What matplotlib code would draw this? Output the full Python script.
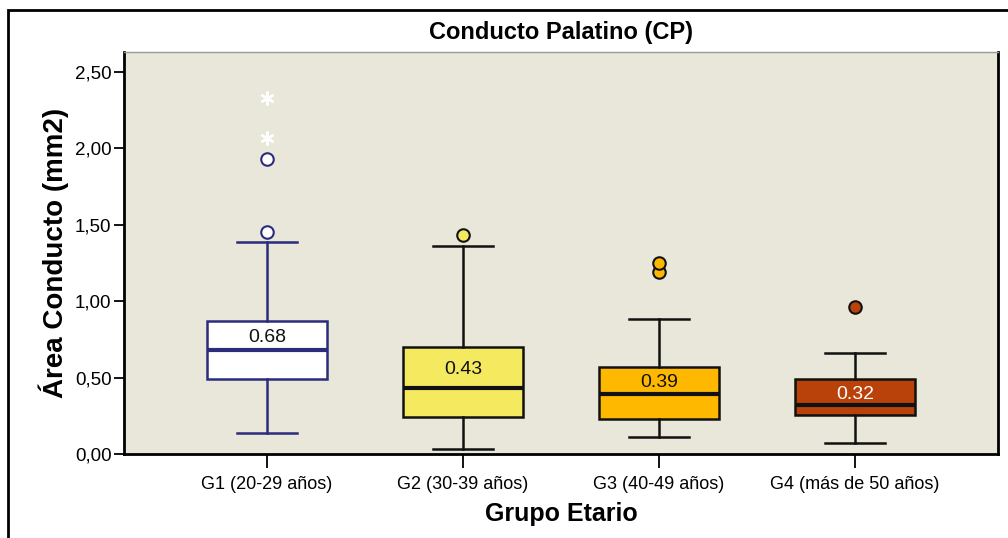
import matplotlib.pyplot as plt
from matplotlib.patches import Rectangle
from matplotlib.ticker import FuncFormatter

plt.rcParams['font.family'] = ['Liberation Sans', 'DejaVu Sans']

grupos = ["G1 (20-29 años)", "G2 (30-39 años)", "G3 (40-49 años)", "G4 (más de 50 años)"]
mediana = [0.68, 0.43, 0.39, 0.32]
q1 = [0.49, 0.24, 0.23, 0.255]
q3 = [0.868, 0.70, 0.57, 0.49]
bigote_inf = [0.137, 0.03, 0.11, 0.07]
bigote_sup = [1.39, 1.36, 0.88, 0.66]
atipicos = [[1.45, 1.93], [1.43], [1.19, 1.25], [0.96]]
extremos = [[2.07, 2.33], [], [], []]

relleno = ["#FFFFFF", "#F5E960", "#FFB800", "#B9410A"]
borde = ["#2B2C7C", "#111111", "#111111", "#111111"]
color_texto = ["#111111", "#111111", "#111111", "#FFFFFF"]

fig = plt.figure(figsize=(10.08, 5.38), dpi=100)
ax = fig.add_axes([124 / 1008, 1 - 454 / 538, 874 / 1008, 402 / 538])
ax.set_facecolor("#E9E6DA")

for i in range(4):
    st = [{"med": mediana[i], "q1": q1[i], "q3": q3[i],
           "whislo": bigote_inf[i], "whishi": bigote_sup[i],
           "fliers": atipicos[i]}]
    c = borde[i]
    ax.bxp(st, positions=[i + 1], widths=0.61, patch_artist=True,
           boxprops=dict(facecolor=relleno[i], edgecolor=c, linewidth=1.8),
           medianprops=dict(color=c, linewidth=3),
           whiskerprops=dict(color=c, linewidth=1.8),
           capprops=dict(color=c, linewidth=1.8),
           flierprops=dict(marker="o", markersize=9, markerfacecolor=relleno[i],
                           markeredgecolor=c, markeredgewidth=1.5),
           manage_ticks=False)
    if extremos[i]:
        # valores extremos: asterisco blanco
        ax.plot([i + 1] * len(extremos[i]), extremos[i], linestyle="none",
                marker=(6, 2, 0), markersize=10, markeredgewidth=1.6, color="white")
    ypos = mediana[i] + (q3[i] - mediana[i]) / 2 - 0.015
    ax.text(i + 1, ypos, f"{mediana[i]:.2f}", ha="center", va="center",
            fontsize=14, color=color_texto[i])

ax.set_xlim(0.27, 4.73)
ax.set_ylim(0, 2.63)
ax.set_xticks([1, 2, 3, 4])
ax.set_xticklabels(grupos, fontsize=13)
ax.set_yticks([0, 0.5, 1.0, 1.5, 2.0, 2.5])
ax.yaxis.set_major_formatter(FuncFormatter(lambda v, p: f"{v:.2f}".replace(".", ",")))
ax.tick_params(axis="y", labelsize=13.5, length=7, width=1.3, pad=2)
ax.tick_params(axis="x", length=10, width=1.3, pad=6)

ax.spines["left"].set_linewidth(2)
ax.spines["bottom"].set_linewidth(2)
ax.spines["right"].set_linewidth(2)
ax.spines["top"].set_color("#999999")
ax.spines["top"].set_linewidth(1)

ax.set_xlabel("Grupo Etario", fontsize=18, fontweight="bold", labelpad=6)
ax.set_ylabel("Área Conducto (mm2)", fontsize=20, fontweight="bold", labelpad=4)
ax.set_title("Conducto Palatino (CP)", fontsize=17, fontweight="bold", pad=9)

fig.patches.append(Rectangle((8 / 1008, -0.1), 1.2, 1 - 10 / 538 + 0.1,
                             transform=fig.transFigure, fill=False,
                             edgecolor="black", linewidth=2, clip_on=False))

fig.savefig("out.png", dpi=100)
